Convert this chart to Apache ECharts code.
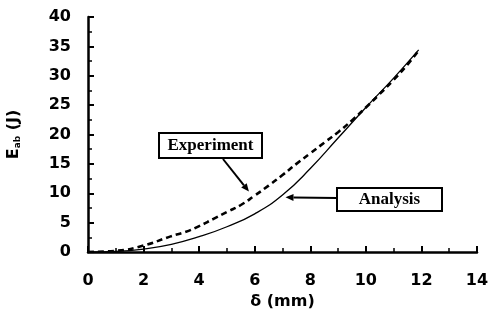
<!DOCTYPE html>
<html>
<head>
<meta charset="utf-8">
<script src="https://cdn.jsdelivr.net/npm/echarts@6/dist/echarts.min.js"></script>
<style>
  html, body { margin: 0; padding: 0; background: #fff; }
  #chart { width: 490px; height: 314px; }
</style>
</head>
<body>
<div id="chart"></div>
<script>
// deflection δ (mm) and absorbed energy E_ab (J)
const analysisX = [0, 1, 2, 3, 4, 5, 6, 7, 8, 9, 10, 11, 11.9];
const analysisY = [0, 0.1, 0.5, 1.3, 2.6, 4.3, 6.5, 9.7, 14.2, 19.4, 24.6, 29.6, 34.4];

const experimentX = [0, 1, 2, 3, 3.5, 4, 4.5, 5, 5.5, 6, 6.5, 7, 7.5, 8, 8.5, 9, 9.5, 10, 10.5, 11, 11.5, 11.9];
const experimentY = [0, 0.2, 1.1, 2.7, 3.4, 4.4, 5.6, 6.8, 8.0, 9.6, 11.3, 13.1, 15.0, 16.8, 18.6, 20.4, 22.4, 24.6, 26.9, 29.3, 31.9, 34.3];

const xTicks = [0, 2, 4, 6, 8, 10, 12, 14];
const yTicks = [0, 5, 10, 15, 20, 25, 30, 35, 40];

const pair = (xs, ys) => xs.map((x, i) => [x, ys[i]]);

const tickFont = {
  fontFamily: 'DejaVu Sans',
  fontWeight: 'bold',
  fontSize: 16,
  color: '#000'
};

const chart = echarts.init(document.getElementById('chart'));

const option = {
  animation: false,
  backgroundColor: '#fff',
  grid: {
    left: 88,
    right: 13,
    top: 17,
    bottom: 62,
    outerBoundsMode: 'none',
    containLabel: false
  },
  xAxis: {
    type: 'value',
    min: xTicks[0],
    max: xTicks[xTicks.length - 1],
    interval: 2,
    name: 'δ (mm)',
    nameLocation: 'middle',
    nameGap: 42,
    nameTextStyle: { ...tickFont },
    axisLine: { lineStyle: { color: '#000', width: 2.5 } },
    axisTick: { inside: true, length: 6, lineStyle: { color: '#000', width: 2 } },
    minorTick: { show: true, splitNumber: 2, length: 4, lineStyle: { color: '#000', width: 1.5 } },
    axisLabel: { ...tickFont, margin: 21 },
    splitLine: { show: false }
  },
  yAxis: {
    type: 'value',
    min: yTicks[0],
    max: yTicks[yTicks.length - 1],
    interval: 5,
    name: '{b|E}{s|ab}{b| (J)}',
    nameLocation: 'middle',
    nameGap: 66,
    nameRotate: 90,
    nameTextStyle: {
      rich: {
        b: { ...tickFont },
        s: { ...tickFont, fontSize: 9, padding: [8, 0, 0, 0] }
      }
    },
    axisLine: { show: true, lineStyle: { color: '#000', width: 2.5 } },
    axisTick: { inside: true, length: 6, lineStyle: { color: '#000', width: 2 } },
    minorTick: { show: true, splitNumber: 2, length: 4, lineStyle: { color: '#000', width: 1.5 } },
    axisLabel: { ...tickFont, margin: 17 },
    splitLine: { show: false }
  },
  series: [
    {
      name: 'Analysis',
      type: 'line',
      smooth: true,
      showSymbol: false,
      data: pair(analysisX, analysisY),
      lineStyle: { color: '#000', width: 1.3 }
    },
    {
      name: 'Experiment',
      type: 'line',
      smooth: true,
      showSymbol: false,
      data: pair(experimentX, experimentY),
      lineStyle: { color: '#000', width: 2.6, type: [6, 4] }
    }
  ]
};

chart.setOption(option);

// annotation boxes with arrows pointing at the curves
const arrow = (from, to) => {
  const dx = to[0] - from[0], dy = to[1] - from[1];
  const len = Math.sqrt(dx * dx + dy * dy);
  const ux = dx / len, uy = dy / len;
  const head = 8, half = 3.5;
  const bx = to[0] - ux * head, by = to[1] - uy * head;
  return [
    {
      type: 'line',
      shape: { x1: from[0], y1: from[1], x2: bx, y2: by },
      style: { stroke: '#000', lineWidth: 2 }
    },
    {
      type: 'polygon',
      shape: { points: [to, [bx - uy * half, by + ux * half], [bx + uy * half, by - ux * half]] },
      style: { fill: '#000' }
    }
  ];
};

const labelBox = (x, y, w, h, text) => [
  {
    type: 'rect',
    shape: { x: x, y: y, width: w, height: h },
    style: { fill: '#fff', stroke: '#000', lineWidth: 2 }
  },
  {
    type: 'text',
    x: x + w / 2,
    y: y + h / 2,
    style: {
      text: text,
      align: 'center',
      verticalAlign: 'middle',
      font: 'bold 17px "Liberation Serif"',
      fill: '#000'
    }
  }
];

const expTip = chart.convertToPixel({ seriesIndex: 1 }, [5.9, 9.6]);
const anaTip = chart.convertToPixel({ seriesIndex: 0 }, [7.0, 9.3]);

chart.setOption({
  graphic: [
    ...arrow([223, 159], [expTip[0] - 3, expTip[1] - 4]),
    ...labelBox(159, 133, 103, 25, 'Experiment'),
    ...arrow([337, 198], [anaTip[0] + 3, anaTip[1]]),
    ...labelBox(337, 188, 105, 23, 'Analysis')
  ]
});
</script>
</body>
</html>
